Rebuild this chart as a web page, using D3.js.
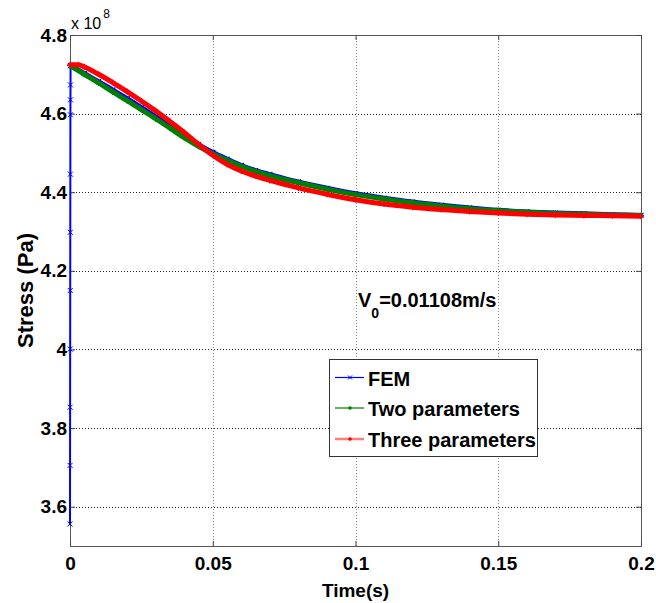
<!DOCTYPE html>
<html lang="en">
<head>
    <meta charset="UTF-8">
    <title>Stress vs Time</title>
    <script src="https://d3js.org/d3.v7.min.js"></script>
    <style>
        body {
            margin: 0;
            background: #fff;
        }
        svg {
            display: block;
            font-family: "Liberation Sans", Arial, Helvetica, sans-serif;
        }
        .tick text {
            font-size: 19px;
            font-weight: bold;
            fill: #000;
        }
        .grid-h {
            stroke: #222;
            stroke-dasharray: 1,2;
        }
        .grid-v {
            stroke: #888;
            stroke-dasharray: 1,2;
        }
    </style>
</head>
<body>
    <svg width="656" height="603"></svg>

    <script>
        // axis ticks
        const xTicks = [0, 0.05, 0.1, 0.15, 0.2];
        const xTickLabels = ["0", "0.05", "0.1", "0.15", "0.2"];
        const yTicks = [3.6, 3.8, 4.0, 4.2, 4.4, 4.6, 4.8];
        const yTickLabels = ["3.6", "3.8", "4", "4.2", "4.4", "4.6", "4.8"];

        // FEM: stress jumps up at t ~ 0, then relaxes (units of 1e8 Pa)
        const femRampTime = [0, 0.00002, 0.00004, 0.00006, 0.00008, 0.0001, 0.00012, 0.00014, 0.00016, 0.00018, 0.0002];
        const femRampStress = [3.556, 3.705, 3.853, 4.001, 4.150, 4.298, 4.446, 4.597, 4.635, 4.673, 4.722];
        const femTime = [0.0002, 0.005, 0.01, 0.015, 0.02, 0.025, 0.03, 0.035, 0.04, 0.045, 0.05, 0.055, 0.06, 0.065, 0.07, 0.08, 0.09, 0.1, 0.11, 0.12, 0.13, 0.14, 0.15, 0.16, 0.17, 0.18, 0.19, 0.2];
        const femStress = [4.722, 4.702, 4.681, 4.660, 4.638, 4.615, 4.592, 4.569, 4.545, 4.521, 4.501, 4.484, 4.468, 4.455, 4.445, 4.426, 4.410, 4.396, 4.385, 4.375, 4.367, 4.360, 4.354, 4.350, 4.347, 4.345, 4.343, 4.341];

        // Two parameters model
        const twoTime = [0, 0.005, 0.01, 0.015, 0.02, 0.025, 0.03, 0.035, 0.04, 0.045, 0.05, 0.055, 0.06, 0.065, 0.07, 0.08, 0.09, 0.1, 0.11, 0.12, 0.13, 0.14, 0.15, 0.16, 0.17, 0.18, 0.19, 0.2];
        const twoStress = [4.722, 4.700, 4.678, 4.655, 4.633, 4.610, 4.587, 4.563, 4.539, 4.517, 4.498, 4.481, 4.466, 4.453, 4.442, 4.424, 4.408, 4.394, 4.383, 4.373, 4.365, 4.358, 4.353, 4.349, 4.346, 4.344, 4.342, 4.341];

        // Three parameters model
        const threeTime = [0, 0.003, 0.005, 0.01, 0.015, 0.02, 0.025, 0.03, 0.035, 0.04, 0.045, 0.05, 0.055, 0.06, 0.065, 0.07, 0.08, 0.09, 0.1, 0.11, 0.12, 0.13, 0.14, 0.15, 0.16, 0.17, 0.18, 0.19, 0.2];
        const threeStress = [4.724, 4.724, 4.719, 4.700, 4.679, 4.656, 4.632, 4.607, 4.580, 4.552, 4.522, 4.494, 4.471, 4.454, 4.441, 4.430, 4.411, 4.395, 4.381, 4.370, 4.362, 4.356, 4.351, 4.347, 4.344, 4.342, 4.341, 4.340, 4.339];

        const seriesNames = ["FEM", "Two parameters", "Three parameters"];
        const seriesColors = ["#0000ff", "#008000", "#ff0000"];

        const plotLeft = 70, plotRight = 641, plotTop = 35, plotBottom = 546;

        const svg = d3.select("svg");

        const x = d3.scaleLinear().domain([0, 0.2]).range([plotLeft, plotRight]);
        const y = d3.scaleLinear().domain([3.5, 4.8]).range([plotBottom, plotTop]);

        // Grid lines
        svg.append("g").selectAll("line")
            .data(xTicks.slice(1, -1))
            .join("line")
            .attr("class", "grid-v")
            .attr("x1", d => Math.round(x(d)) + 0.5)
            .attr("x2", d => Math.round(x(d)) + 0.5)
            .attr("y1", plotTop)
            .attr("y2", plotBottom);

        svg.append("g").selectAll("line")
            .data(yTicks.slice(0, -1))
            .join("line")
            .attr("class", "grid-h")
            .attr("x1", plotLeft)
            .attr("x2", plotRight)
            .attr("y1", d => Math.round(y(d)) + 0.5)
            .attr("y2", d => Math.round(y(d)) + 0.5);

        // Box
        svg.append("rect")
            .attr("x", plotLeft + 0.5)
            .attr("y", plotTop + 0.5)
            .attr("width", plotRight - plotLeft)
            .attr("height", plotBottom - plotTop)
            .attr("fill", "none")
            .attr("stroke", "#555");

        // Axes with inward ticks
        const xAxis = svg.append("g")
            .attr("transform", `translate(0,${plotBottom})`)
            .call(d3.axisBottom(x).tickValues(xTicks).tickFormat((d, i) => xTickLabels[i]).tickSize(-5).tickPadding(11));
        const yAxis = svg.append("g")
            .attr("transform", `translate(${plotLeft},0)`)
            .call(d3.axisLeft(y).tickValues(yTicks).tickFormat((d, i) => yTickLabels[i]).tickSize(-5).tickPadding(3));
        svg.append("g")
            .attr("transform", `translate(0,${plotTop})`)
            .call(d3.axisTop(x).tickValues(xTicks).tickFormat("").tickSize(-5));
        svg.append("g")
            .attr("transform", `translate(${plotRight},0)`)
            .call(d3.axisRight(y).tickValues(yTicks).tickFormat("").tickSize(-5));

        svg.selectAll(".domain").remove();
        svg.selectAll(".tick line").attr("stroke", "#444");
        xAxis.attr("font-family", null).attr("font-size", null);
        yAxis.attr("font-family", null).attr("font-size", null);

        // Axis labels
        svg.append("text")
            .attr("x", (plotLeft + plotRight) / 2)
            .attr("y", 597)
            .attr("text-anchor", "middle")
            .attr("font-size", 19)
            .attr("font-weight", "bold")
            .text("Time(s)");

        svg.append("text")
            .attr("transform", `translate(33,${(plotTop + plotBottom) / 2}) rotate(-90)`)
            .attr("text-anchor", "middle")
            .attr("font-size", 22)
            .attr("font-weight", "bold")
            .text("Stress (Pa)");

        // exponent
        const expo = svg.append("text")
            .attr("x", 71)
            .attr("y", 29)
            .attr("font-size", 16);
        expo.append("tspan").text("x 10");
        expo.append("tspan").attr("dy", -11).attr("dx", 2).attr("font-size", 12).text("8");

        // Curves
        const line = d3.line().x(d => x(d[0])).y(d => y(d[1]));
        const smooth = d3.line().curve(d3.curveMonotoneX).x(d => x(d[0])).y(d => y(d[1]));
        const zip = (a, b) => a.map((t, i) => [t, b[i]]);

        const femRamp = zip(femRampTime, femRampStress);
        const fem = zip(femTime, femStress);
        const two = zip(twoTime, twoStress);
        const three = zip(threeTime, threeStress);

        const markX = "M-2.5,-2.5L2.5,2.5M-2.5,2.5L2.5,-2.5";
        const markPlus = "M-3,0L3,0M0,-3L0,3";

        // FEM ramp at t ~ 0
        svg.append("path")
            .datum(femRamp)
            .attr("d", line)
            .attr("fill", "none")
            .attr("stroke", seriesColors[0])
            .attr("stroke-width", 2);
        svg.append("g").selectAll("path")
            .data(femRamp)
            .join("path")
            .attr("transform", d => `translate(${x(d[0])},${y(d[1])})`)
            .attr("d", markX)
            .attr("stroke", seriesColors[0])
            .attr("stroke-width", 1)
            .attr("fill", "none");

        // dense markers make each curve look like a thick band
        function band(data, color, mark) {
            svg.append("path")
                .datum(data)
                .attr("d", smooth)
                .attr("fill", "none")
                .attr("stroke", color)
                .attr("stroke-width", 5)
                .attr("stroke-linejoin", "round");
            svg.append("g").selectAll("path")
                .data(data)
                .join("path")
                .attr("transform", d => `translate(${x(d[0])},${y(d[1])})`)
                .attr("d", mark)
                .attr("stroke", color)
                .attr("stroke-width", 1.2)
                .attr("fill", "none");
        }

        band(fem, seriesColors[0], markX);
        band(two, seriesColors[1], markPlus);
        band(three, seriesColors[2], markPlus);

        // Annotation
        const ann = svg.append("text")
            .attr("x", 358)
            .attr("y", 307)
            .attr("font-size", 20)
            .attr("font-weight", "bold");
        ann.append("tspan").text("V");
        ann.append("tspan").attr("dy", 11).attr("font-size", 14).text("0");
        ann.append("tspan").attr("dy", -11).text("=0.01108m/s");

        // Legend
        const legend = svg.append("g");
        legend.append("rect")
            .attr("x", 329.5)
            .attr("y", 359.5)
            .attr("width", 208)
            .attr("height", 97)
            .attr("fill", "#fff")
            .attr("stroke", "#333");

        const legendRows = [377.5, 408, 439];
        seriesNames.forEach((name, i) => {
            const ly = legendRows[i];
            legend.append("line")
                .attr("x1", 335).attr("x2", 364)
                .attr("y1", ly).attr("y2", ly)
                .attr("stroke", i === 2 ? "#ff7a7a" : seriesColors[i])
                .attr("stroke-width", i === 2 ? 2.5 : 1.2);
            if (i === 0) {
                legend.append("path")
                    .attr("transform", `translate(350,${ly})`)
                    .attr("d", "M-2,-2L2,2M-2,2L2,-2")
                    .attr("stroke", seriesColors[0])
                    .attr("fill", "none");
            } else {
                legend.append("circle")
                    .attr("cx", 350).attr("cy", ly)
                    .attr("r", 1.8)
                    .attr("fill", seriesColors[i]);
            }
            legend.append("text")
                .attr("x", 368)
                .attr("y", ly + 8)
                .attr("font-size", 20)
                .attr("font-weight", "bold")
                .text(name);
        });
    </script>
</body>
</html>
